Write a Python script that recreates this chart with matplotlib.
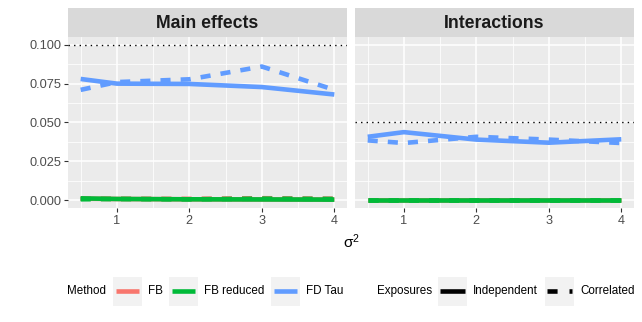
import matplotlib
matplotlib.use("Agg")
import matplotlib.pyplot as plt
from matplotlib.lines import Line2D
from matplotlib.patches import Rectangle

plt.rcParams['font.family'] = ['Liberation Sans', 'DejaVu Sans']

# data
sigma2 = [0.5, 1, 2, 3, 4]
panels = ["Main effects", "Interactions"]
thresholds = [0.10, 0.05]

methods = ["FB", "FB reduced", "FD Tau"]
colors = {"FB": "#F8766D", "FB reduced": "#00BA38", "FD Tau": "#619CFF"}
exposures = ["Independent", "Correlated"]

main_vals = {
    ("FB", "Independent"): [0.0010, 0.0008, 0.0006, 0.0005, 0.0004],
    ("FB", "Correlated"): [0.0010, 0.0009, 0.0009, 0.0013, 0.0010],
    ("FB reduced", "Independent"): [0.0012, 0.0008, 0.0006, 0.0005, 0.0004],
    ("FB reduced", "Correlated"): [0.0006, 0.0008, 0.0006, 0.0010, 0.0008],
    ("FD Tau", "Independent"): [0.0780, 0.0750, 0.0748, 0.0728, 0.0680],
    ("FD Tau", "Correlated"): [0.0710, 0.0760, 0.0778, 0.0860, 0.0710],
}
inter_vals = {
    ("FB", "Independent"): [0.0, 0.0, 0.0, 0.0, 0.0],
    ("FB", "Correlated"): [0.0, 0.0, 0.0, 0.0, 0.0],
    ("FB reduced", "Independent"): [0.0, 0.0, 0.0, 0.0, 0.0],
    ("FB reduced", "Correlated"): [0.0, 0.0, 0.0, 0.0, 0.0],
    ("FD Tau", "Independent"): [0.0408, 0.0438, 0.0390, 0.0370, 0.0392],
    ("FD Tau", "Correlated"): [0.0385, 0.0368, 0.0408, 0.0390, 0.0368],
}
all_vals = [main_vals, inter_vals]

LW = 3.3
linestyles = {"Independent": "-", "Correlated": (0, (2.2, 2.2))}

W, H = 642, 322
fig = plt.figure(figsize=(W / 100, H / 100), dpi=100)

def px_axes(x0, y0, x1, y1):
    # pixel box (top-left origin) -> figure axes
    return fig.add_axes([x0 / W, 1 - y1 / H, (x1 - x0) / W, (y1 - y0) / H])

panel_x = [(68, 347), (355, 634)]
for i, (name, thr, vals) in enumerate(zip(panels, thresholds, all_vals)):
    x0, x1 = panel_x[i]
    ax = px_axes(x0, 37, x1, 208)
    ax.set_facecolor("#EBEBEB")
    for s in ax.spines.values():
        s.set_visible(False)
    ax.set_xlim(0.325, 4.175)
    ax.set_ylim(-0.005, 0.105)
    ax.set_xticks([1, 2, 3, 4])
    ax.set_yticks([0, 0.025, 0.05, 0.075, 0.1])
    ax.set_xticks([0.5, 1.5, 2.5, 3.5], minor=True)
    ax.set_yticks([0.0125, 0.0375, 0.0625, 0.0875], minor=True)
    ax.grid(which="major", color="white", linewidth=1.1)
    ax.grid(which="minor", color="white", linewidth=0.55)
    ax.set_axisbelow(True)
    ax.tick_params(which="major", length=3, width=0.8, color="#333333",
                   labelsize=9.2, labelcolor="#4D4D4D", pad=2)
    ax.tick_params(which="minor", length=0)
    if i == 0:
        ax.set_yticklabels(["0.000", "0.025", "0.050", "0.075", "0.100"])
    else:
        ax.tick_params(axis="y", which="major", length=0, labelleft=False)

    for m in methods:
        for e in exposures:
            ax.plot(sigma2, vals[(m, e)], color=colors[m], lw=LW,
                    linestyle=linestyles[e], solid_capstyle="butt",
                    dash_capstyle="butt")
    ax.axhline(thr, color="black", lw=1, linestyle=(0, (1, 3)))

    sax = px_axes(x0, 8, x1, 37)
    sax.set_facecolor("#D9D9D9")
    sax.set_xticks([])
    sax.set_yticks([])
    for s in sax.spines.values():
        s.set_visible(False)
    sax.text(0.5, 0.47, name, ha="center", va="center", fontsize=12.7,
             fontweight="bold", color="#1A1A1A", transform=sax.transAxes)

fig.text(351 / W, 1 - 242 / H, r"$\mathregular{\sigma^2}$", ha="center",
         va="center", fontsize=11, color="black")

# legend row, built by hand in ggplot style
def fx(px):
    return px / W

def fy(py):
    return 1 - py / H

ly = 291
def key_box(xl):
    fig.patches.append(Rectangle((fx(xl), fy(306)), 29 / W, 29 / H,
                                 transform=fig.transFigure,
                                 facecolor="#F2F2F2", edgecolor="none"))

fs = 8.4
fig.text(fx(67), fy(ly), "Method", fontsize=fs, va="center", ha="left")
method_keys = [113, 169, 271]
for m, xl in zip(methods, method_keys):
    key_box(xl)
    fig.lines.append(Line2D([fx(xl + 3), fx(xl + 26)], [fy(ly), fy(ly)],
                            transform=fig.transFigure, color=colors[m], lw=LW,
                            solid_capstyle="butt"))
    fig.text(fx(xl + 35), fy(ly), m, fontsize=fs, va="center", ha="left")

fig.text(fx(377), fy(ly), "Exposures", fontsize=fs, va="center", ha="left")
exp_keys = [438, 545]
for e, xl in zip(exposures, exp_keys):
    key_box(xl)
    fig.lines.append(Line2D([fx(xl + 2), fx(xl + 27)], [fy(ly), fy(ly)],
                            transform=fig.transFigure, color="black", lw=LW,
                            linestyle=(0, (2.2, 2.6)) if e == "Correlated" else "-",
                            solid_capstyle="butt", dash_capstyle="butt"))
    fig.text(fx(xl + 35), fy(ly), e, fontsize=fs, va="center", ha="left")

fig.savefig("out.png", dpi=100)
